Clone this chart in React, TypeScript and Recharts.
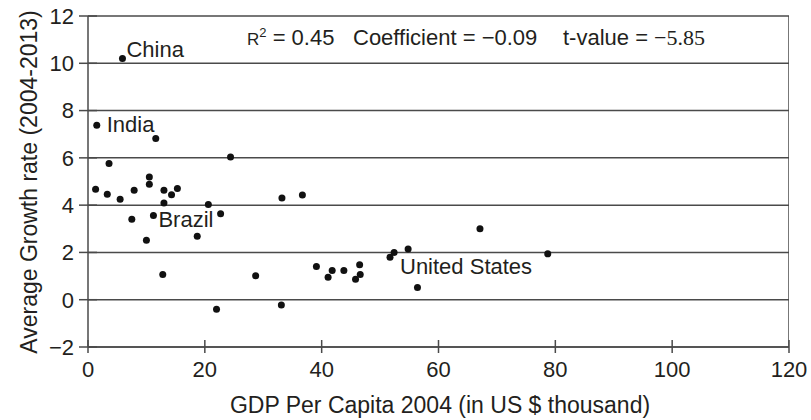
import React from "react"
import { ScatterChart, Scatter, XAxis, YAxis, CartesianGrid } from "recharts"

// GDP per capita 2004 (US$ thousand) and average growth 2004-2013 (%)
const gdp = [
  5.9, 1.5, 11.6, 3.6, 24.4, 1.3, 3.3, 5.5, 7.9, 10.5,
  10.5, 13.0, 14.3, 15.3, 13.0, 20.6, 7.5, 11.2, 22.7, 10.0,
  18.7, 12.8, 28.7, 22.0, 33.1, 33.2, 36.7, 67.1, 78.7, 39.1,
  41.1, 41.8, 43.8, 46.5, 46.6, 45.8, 51.7, 52.4, 54.8, 56.4,
]
const growth = [
  10.2, 7.38, 6.82, 5.76, 6.04, 4.67, 4.46, 4.25, 4.63, 5.19,
  4.88, 4.63, 4.44, 4.7, 4.09, 4.03, 3.4, 3.56, 3.64, 2.51,
  2.68, 1.07, 1.01, -0.4, -0.22, 4.3, 4.43, 3.0, 1.94, 1.41,
  0.95, 1.24, 1.24, 1.48, 1.07, 0.87, 1.8, 2.0, 2.14, 0.52,
]
const countryLabels = ["China", "India", "", "", "", "", "", "", "", "",
  "", "", "", "", "", "", "", "Brazil", "", "",
  "", "", "", "", "", "", "", "", "", "",
  "", "", "", "", "", "", "United States", "", "", ""]

const xTicks = [0, 20, 40, 60, 80, 100, 120]
const yTicks = [-2, 0, 2, 4, 6, 8, 10, 12]

const points = gdp.map((g, i) => ({ gdp: g, growth: growth[i], name: countryLabels[i] }))
// right-hand frame of the plot box, at the end of the x range
const frameRight = [
  { gdp: xTicks[xTicks.length - 1], growth: yTicks[0] },
  { gdp: xTicks[xTicks.length - 1], growth: yTicks[yTicks.length - 1] },
]

// where each country name sits relative to its dot
const labelOffset = {
  China: [4, -2],
  India: [10, 7],
  Brazil: [5, 11],
  "United States": [10, 17],
}

const FONT = "'Liberation Sans', Arial, Helvetica, sans-serif"
const INK = "#231f20"
const LINE = "#4a4a4a"

const fmt = (v) => (v < 0 ? "\u2212" + Math.abs(v) : String(v))

function YTick(props) {
  const { x, y, payload } = props
  return (
    <g>
      <line x1={x - 9} x2={x + 9} y1={y} y2={y} stroke={LINE} strokeWidth={1.5} />
      <text x={x - 14} y={y} dy="0.36em" textAnchor="end" fontSize={22} fontFamily={FONT} fill={INK}>
        {fmt(payload.value)}
      </text>
    </g>
  )
}

function XTick(props) {
  const { x, y, payload } = props
  return (
    <g>
      <line x1={x} x2={x} y1={y - 7} y2={y + 6} stroke={LINE} strokeWidth={1.5} />
      <text x={x} y={y + 30} textAnchor="middle" fontSize={22} fontFamily={FONT} fill={INK}>
        {payload.value}
      </text>
    </g>
  )
}

function Dot(props) {
  const { cx, cy, payload } = props
  const off = labelOffset[payload.name]
  return (
    <g>
      <circle cx={cx} cy={cy} r={3.5} fill="#111" />
      {off && (
        <text x={cx + off[0]} y={cy + off[1]} fontSize={22} fontFamily={FONT} fill={INK}>
          {payload.name}
        </text>
      )}
    </g>
  )
}

const NoDot = () => <g />

export default function App() {
  return (
    <div style={{ position: "fixed", left: 0, top: 0, width: 811, height: 420, background: "#fff" }}>
      <ScatterChart width={811} height={420} margin={{ top: 16, right: 22, bottom: 0, left: 8 }}>
        <CartesianGrid vertical={false} stroke={LINE} strokeWidth={1.5} />
        <XAxis
          type="number"
          dataKey="gdp"
          domain={[0, 120]}
          ticks={xTicks}
          height={73}
          tickSize={0}
          tickMargin={0}
          tickLine={false}
          tick={<XTick />}
          axisLine={{ stroke: LINE, strokeWidth: 1.5 }}
          allowDataOverflow
        />
        <YAxis
          type="number"
          dataKey="growth"
          domain={[-2, 12]}
          ticks={yTicks}
          width={80}
          tickSize={0}
          tickMargin={0}
          tickLine={false}
          tick={<YTick />}
          axisLine={{ stroke: LINE, strokeWidth: 1.5 }}
          allowDataOverflow
        />
        <Scatter
          data={frameRight}
          shape={<NoDot />}
          line={{ stroke: LINE, strokeWidth: 1.5 }}
          isAnimationActive={false}
        />
        <Scatter data={points} shape={<Dot />} isAnimationActive={false} />
        <text x={247} y={45} fontSize={17} fontFamily={FONT} fill={INK}>
          R<tspan fontSize={13} dy={-8}>2</tspan>
          <tspan fontSize={22} dy={8}> = 0.45</tspan>
        </text>
        <text x={353} y={45} fontSize={22} fontFamily={FONT} fill={INK}>
          Coefficient = {"\u2212"}0.09
        </text>
        <text x={563} y={45} fontSize={22} fontFamily={FONT} fill={INK}>
          t-value = <tspan fontFamily="'Liberation Serif', 'Times New Roman', serif">{"\u2212"}5.85</tspan>
        </text>
        <text x={440} y={413} textAnchor="middle" fontSize={23} fontFamily={FONT} fill={INK}>
          GDP Per Capita 2004 (in US $ thousand)
        </text>
        <text
          x={37}
          y={182}
          textAnchor="middle"
          fontSize={23}
          fontFamily={FONT}
          fill={INK}
          transform="rotate(-90, 37, 182)"
        >
          Average Growth rate (2004-2013)
        </text>
      </ScatterChart>
    </div>
  )
}
